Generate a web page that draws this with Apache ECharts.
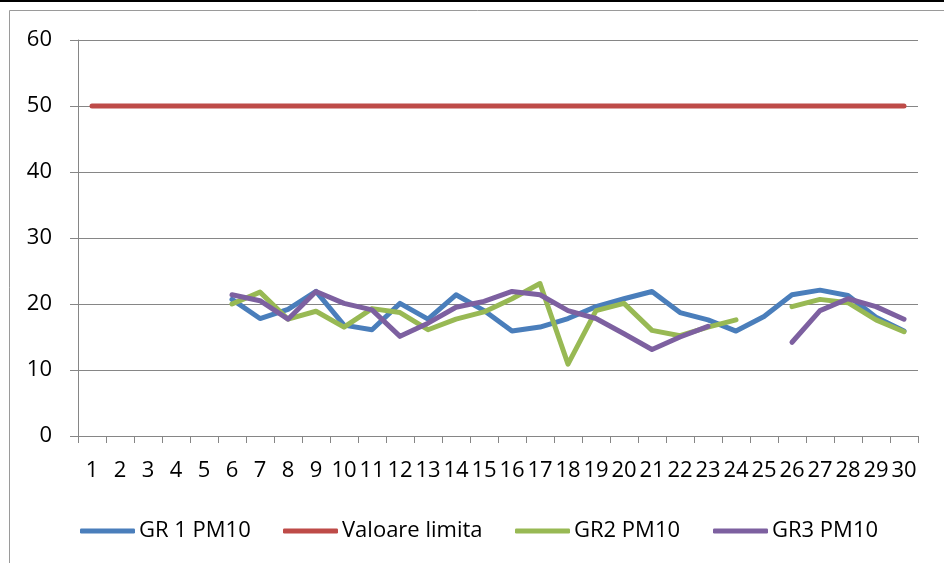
<!DOCTYPE html>
<html>
<head>
<meta charset="utf-8">
<script src="https://cdn.jsdelivr.net/npm/echarts@6/dist/echarts.min.js"></script>
<style>
html,body{margin:0;padding:0;background:#fff;}
#chart{width:944px;height:563px;}
</style>
</head>
<body>
<div id="chart"></div>
<script>
const categories = ['1','2','3','4','5','6','7','8','9','10','11','12','13','14','15','16','17','18','19','20','21','22','23','24','25','26','27','28','29','30'];
const yTicks = [0, 10, 20, 30, 40, 50, 60];
const gr1 = [null,null,null,null,null,20.7,17.8,19.2,21.9,16.8,16.1,20.1,17.7,21.4,19.0,15.9,16.5,17.8,19.6,20.8,21.9,18.7,17.6,15.9,18.1,21.4,22.1,21.3,18.0,15.9];
const limita = [50,50,50,50,50,50,50,50,50,50,50,50,50,50,50,50,50,50,50,50,50,50,50,50,50,50,50,50,50,50];
const gr2 = [null,null,null,null,null,20.0,21.8,17.7,18.9,16.5,19.3,18.7,16.1,17.7,18.8,20.8,23.1,10.9,19.0,20.1,16.0,15.2,16.5,17.6,null,19.6,20.7,20.2,17.6,15.8];
const gr3 = [null,null,null,null,null,21.4,20.5,17.7,21.9,20.1,19.1,15.1,17.1,19.5,20.4,21.9,21.4,19.0,17.8,15.5,13.1,15.0,16.6,null,null,14.2,19.0,20.8,19.6,17.7];
const seriesNames = ['GR 1 PM10', 'Valoare limita', 'GR2 PM10', 'GR3 PM10'];
const seriesColors = ['#4A7EBB', '#BE4B48', '#98B954', '#7D60A0'];
const seriesData = [gr1, limita, gr2, gr3];
const legendLefts = [80, 283, 515, 713];

const FONT = "'Open Sans', sans-serif";
const FS = 22;
const chart = echarts.init(document.getElementById('chart'), null, {renderer: 'canvas'});
chart.setOption({
  animation: false,
  backgroundColor: '#fff',
  graphic: [
    {type: 'rect', shape: {x: 0, y: 0, width: 944, height: 2}, style: {fill: '#000'}, silent: true},
    {type: 'rect', shape: {x: 9.5, y: 10.5, width: 1000, height: 600}, style: {fill: 'none', stroke: '#9a9a9a', lineWidth: 1}, silent: true}
  ],
  grid: {left: 78, right: 26, top: 40, bottom: 127, containLabel: false},
  legend: seriesNames.map((n, i) => ({
    left: legendLefts[i], top: 515, padding: [5, 0, 5, 0],
    itemWidth: 55, itemHeight: 5, itemGap: 0,
    icon: 'roundRect',
    textStyle: {fontFamily: FONT, fontSize: FS, color: '#000', padding: [0, 0, 0, -1]},
    data: [n]
  })),
  xAxis: {
    type: 'category',
    data: categories,
    boundaryGap: true,
    axisLine: {lineStyle: {color: '#868686', width: 1}},
    axisTick: {show: true, length: 7, alignWithLabel: false, lineStyle: {color: '#868686'}},
    axisLabel: {fontFamily: FONT, fontSize: FS, color: '#000', margin: 24, interval: 0}
  },
  yAxis: {
    type: 'value',
    min: yTicks[0], max: yTicks[yTicks.length - 1], interval: 10,
    axisLine: {show: true, lineStyle: {color: '#868686', width: 1}},
    axisTick: {show: true, length: 8, inside: false, lineStyle: {color: '#868686'}},
    splitLine: {show: true, lineStyle: {color: '#868686', width: 1}},
    axisLabel: {fontFamily: FONT, fontSize: FS, color: '#000', margin: 26}
  },
  series: seriesNames.map((n, i) => ({
    name: n,
    type: 'line',
    data: seriesData[i],
    showSymbol: false,
    symbol: 'none',
    connectNulls: false,
    color: seriesColors[i],
    lineStyle: {width: 5, color: seriesColors[i], cap: 'round', join: 'round'}
  }))
});
</script>
</body>
</html>
